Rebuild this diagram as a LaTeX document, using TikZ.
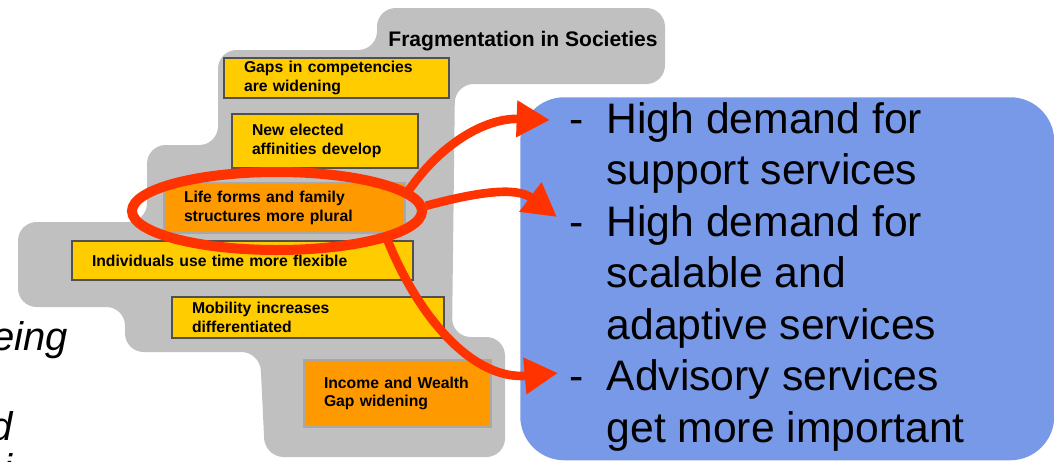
\documentclass[tikz,border=0pt]{standalone}
\usepackage{fontspec}
\setmainfont{Liberation Sans}
\usetikzlibrary{shapes.geometric,arrows.meta}
\definecolor{blobgrey}{HTML}{C0C0C0}
\definecolor{yfill}{HTML}{FFCC00}
\definecolor{ofill}{HTML}{FF9900}
\definecolor{dborder}{HTML}{505050}
\definecolor{lborder}{HTML}{A8A8A8}
\definecolor{redarr}{HTML}{FF3300}
\definecolor{bluefill}{HTML}{7799E8}
\tikzset{
  factbox/.style={rectangle, anchor=north west, line width=1.5pt, inner xsep=15pt, inner ysep=0pt,
    align=left, font=\fontsize{11.8}{14}\selectfont\bfseries},
  yellowbox/.style={factbox, fill=yfill, draw=dborder},
  orangebox/.style={factbox, fill=ofill, draw=lborder},
  redarrow/.style={draw=redarr, line width=6.5pt, -{Triangle[length=25pt,width=26pt]}},
  bigtext/.style={inner sep=0pt, font=\fontsize{32}{38.6}\selectfont},
  slanttext/.style={inner sep=0pt, font=\fontsize{30}{38.6}\selectfont\itshape}
}
\newcommand{\dashitem}{\makebox[28pt][l]{-}}
\newcommand{\contitem}{\hspace*{28pt}}
\begin{document}
\begin{tikzpicture}[x=0.75pt,y=-0.75pt]
\useasboundingbox (0,0) rectangle (1054,461);
\clip (0,0) rectangle (1054,461);

% grey blob
\fill[blobgrey, rounded corners=14pt] (377,8) -- (665,8) -- (665,84) -- (455,84) -- (452,337)
  -- (505,337) -- (505,457) -- (265,457) -- (260,352) -- (125,352) -- (125,307)
  -- (18,307) -- (18,222) -- (147,222) -- (147,145) -- (218,145) -- (218,50)
  -- (377,50) -- cycle;

\node[anchor=base, inner sep=0pt, font=\fontsize{15.8}{18}\selectfont\bfseries] (title) at (523,46) {Fragmentation in Societies};

\node[yellowbox, minimum width=168.75pt, minimum height=30pt, text width=138.75pt] (gaps) at (223,57)
  {Gaps in competencies\\are widening};
\node[yellowbox, minimum width=139.5pt, minimum height=40.5pt, text width=109.5pt] (elected) at (231,113)
  {New elected\\affinities develop};
\node[orangebox, minimum width=180.75pt, minimum height=37.5pt, text width=150.75pt] (life) at (163,182)
  {Life forms and family\\structures more plural};
\node[yellowbox, minimum width=255.75pt, minimum height=29.25pt, text width=225.75pt] (indiv) at (71,240)
  {Individuals use time more flexible};
\node[yellowbox, minimum width=204pt, minimum height=30.75pt, text width=174pt] (mobility) at (171,296)
  {Mobility increases\\differentiated};
\node[orangebox, minimum width=140.25pt, minimum height=50.25pt, text width=110.25pt] (income) at (303,359)
  {Income and Wealth\\Gap widening};

% blue box
\node[fill=bluefill, rounded corners=33pt, anchor=north west, inner sep=0pt,
  minimum width=400.5pt, minimum height=272.25pt] (blue) at (520,97) {};
\node[bigtext, anchor=base west, align=left] (list) at (569,442)
  {\dashitem High demand for\\
   \contitem support services\\
   \dashitem High demand for\\
   \contitem scalable and\\
   \contitem adaptive services\\
   \dashitem Advisory services\\
   \contitem get more important};

% left cut-off text
\node[slanttext, anchor=base east] (frag1) at (68,350) {eing};
\node[slanttext, anchor=base east] (frag2) at (13,440) {d};
\node[slanttext, anchor=base west] (frag3) at (3,482) {i};

% ellipse and arrows
\node[ellipse, draw=redarr, line width=7.5pt, minimum width=217.5pt, minimum height=58.5pt, inner sep=0pt] (ell) at (277,211) {};
\coordinate (t1) at (550,120);
\coordinate (t2) at (557,217);
\coordinate (t3) at (558,373);
\draw[redarrow] (ell.9) to[out=55, in=178] (t1);
\draw[redarrow] (ell.2) to[out=15, in=143] (t2);
\draw[redarrow] (ell.-15) to[out=-68, in=185] (t3);
\end{tikzpicture}
\end{document}
